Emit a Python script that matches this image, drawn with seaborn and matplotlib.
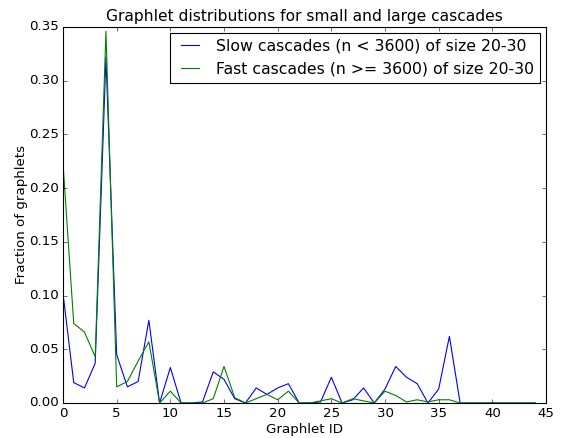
import matplotlib
matplotlib.use("Agg")
import matplotlib.pyplot as plt
import seaborn as sns
import pandas as pd

graphlet_ids = list(range(45))
slow_values = [0.102, 0.019, 0.014, 0.037, 0.322, 0.045, 0.015, 0.020, 0.077, 0.000,
               0.033, 0.000, 0.000, 0.001, 0.029, 0.022, 0.004, 0.000, 0.014, 0.008,
               0.014, 0.018, 0.000, 0.000, 0.001, 0.024, 0.000, 0.003, 0.014, 0.000,
               0.013, 0.034, 0.024, 0.018, 0.000, 0.013, 0.062, 0.000, 0.000, 0.000,
               0.000, 0.000, 0.000, 0.000, 0.000]
fast_values = [0.223, 0.074, 0.066, 0.043, 0.346, 0.015, 0.020, 0.039, 0.057, 0.000,
               0.011, 0.000, 0.000, 0.000, 0.004, 0.034, 0.005, 0.000, 0.004, 0.008,
               0.003, 0.011, 0.000, 0.000, 0.002, 0.004, 0.000, 0.004, 0.002, 0.000,
               0.011, 0.007, 0.001, 0.003, 0.001, 0.003, 0.003, 0.000, 0.000, 0.000,
               0.000, 0.000, 0.000, 0.000, 0.000]
slow_label = "Slow cascades (n < 3600) of size 20-30"
fast_label = "Fast cascades (n >= 3600) of size 20-30"

plt.style.use("classic")
fig = plt.figure(figsize=(562 / 80, 438 / 80), dpi=80, facecolor="white")
ax = fig.add_axes([63 / 562, 1 - 403 / 438, (546 - 63) / 562, (403 - 27) / 438])

df_slow = pd.DataFrame({"id": graphlet_ids, "frac": slow_values})
df_fast = pd.DataFrame({"id": graphlet_ids, "frac": fast_values})
sns.lineplot(data=df_slow, x="id", y="frac", color="b", linewidth=1, label=slow_label, ax=ax)
sns.lineplot(data=df_fast, x="id", y="frac", color="g", linewidth=1, label=fast_label, ax=ax)

ax.set_xlim(0, 45)
ax.set_ylim(0, 0.35)
ax.tick_params(labelsize=12)
ax.set_title("Graphlet distributions for small and large cascades", fontsize=14.0)
ax.set_xlabel("Graphlet ID", fontsize=12, labelpad=2)
ax.set_ylabel("Fraction of graphlets", fontsize=12, labelpad=1)
ax.legend(loc="upper right", fontsize=14.2, handlelength=1.7, borderaxespad=0.35)

fig.savefig("out.png", dpi=80, facecolor="white")
